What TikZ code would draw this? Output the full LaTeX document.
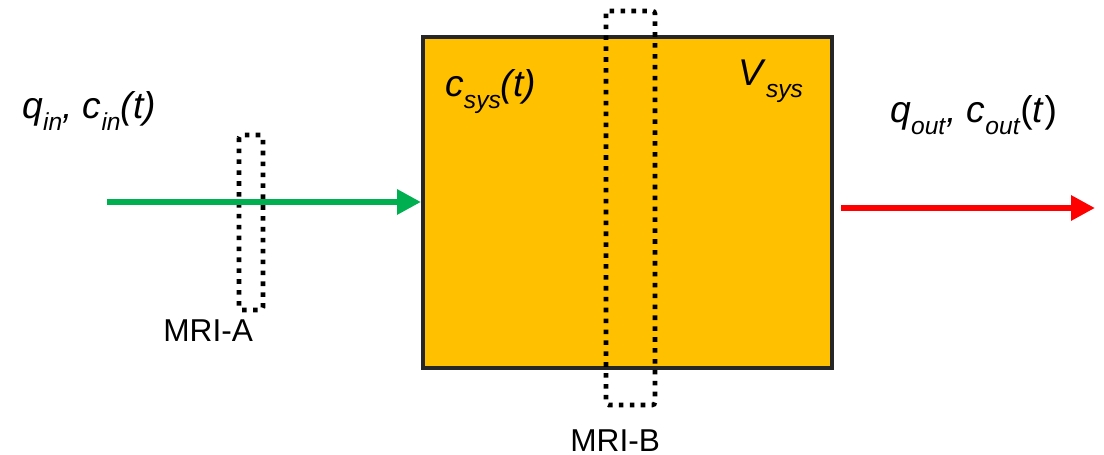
\documentclass[tikz,border=0pt]{standalone}
\usepackage{fontspec}
\setmainfont{Liberation Sans}
\usetikzlibrary{arrows.meta}
\definecolor{sysfill}{HTML}{FFC000}
\definecolor{sysedge}{HTML}{262626}
\definecolor{inflow}{HTML}{00B050}
\definecolor{outflow}{HTML}{FF0000}
% lowered, reduced subscript in the running font
\newcommand\lowsub[1]{\raisebox{-0.3em}{\fontsize{14pt}{15pt}\selectfont #1}}
\begin{document}
\begin{tikzpicture}[x=0.02cm,y=-0.02cm,
  label/.style={inner sep=0pt,anchor=base west,font=\fontsize{21.2pt}{23pt}\selectfont},
  tag/.style={inner sep=0pt,anchor=base west,font=\fontsize{18pt}{20pt}\selectfont},
  probe/.style={draw=black,line width=2.6pt,dash pattern=on 2.6pt off 3.6pt,rounded corners=1.5pt},
  flow/.style={line width=3.8pt,-{Triangle[length=13.6pt,width=13.6pt]}}]
\useasboundingbox (0,0) rectangle (1104,455);
% the system volume
\node[draw=sysedge,fill=sysfill,line width=2.3pt,minimum width=8.18cm,minimum height=6.62cm,inner sep=0pt]
  (sys) at (627.5,202.5) {};
% measurement planes
\draw[probe] (239,135) rectangle (263,310);
\draw[probe] (606,11) rectangle (655,405);
% flows in and out
\coordinate (inStart) at (107,202);
\coordinate (outEnd) at (1095,208);
\draw[flow,draw=inflow,fill=inflow] (inStart) -- (inStart -| sys.west);
\draw[flow,draw=outflow,fill=outflow] ([xshift=4pt]sys.east |- outEnd) -- (outEnd);
% labels
\node[label] (lin) at (22,119) {\textit{q}\lowsub{\textit{in}}\textit{, c}\lowsub{\textit{in}}\textit{(t)}};
\node[label] (lsys) at (445,97) {\textit{c}\lowsub{\textit{sys}}\textit{(t)}};
\node[label] (lvol) at (738,86) {\textit{V}\lowsub{\textit{sys}}};
\node[label] (lout) at (890,123) {\textit{q}\lowsub{\textit{out}}\textit{, c}\lowsub{\textit{out}}(\textit{t})};
\node[tag] (ma) at (163,342) {MRI-A};
\node[tag] (mb) at (570,451) {MRI-B};
\end{tikzpicture}
\end{document}
